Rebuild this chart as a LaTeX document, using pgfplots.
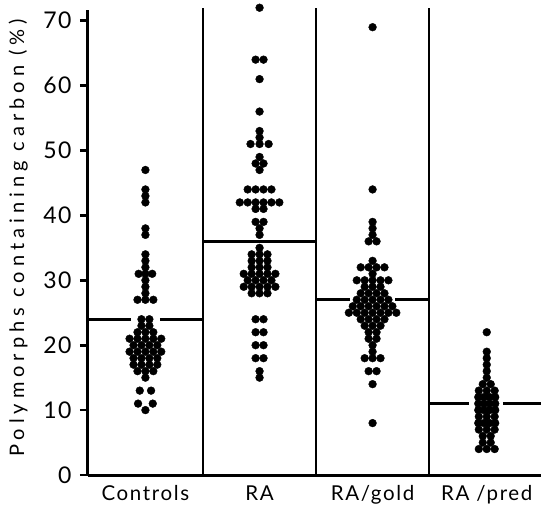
\documentclass[border=0pt]{standalone}
\usepackage{fontspec}
\setmainfont{Lato}
\newfontfamily\lsfont[LetterSpace=8]{Lato}
\newfontfamily\tkfont[LetterSpace=6]{Lato}
\newfontfamily\ylfont[LetterSpace=25]{Lato}
\usepackage{pgfplots}
\pgfplotsset{compat=1.18}
\begin{document}
\begin{tikzpicture}
\begin{axis}[
  name=ax,
  scale only axis,
  width=453pt, height=465pt,
  xmin=-0.018, xmax=3.99,
  ymin=0, ymax=71.65,
  axis x line*=bottom, axis y line*=left,
  axis line style={line width=3pt, -},
  ytick={0,10,20,30,40,50,60,70},
  ytick style={line width=2.6pt, black},
  major tick length=8pt,
  tick align=outside,
  xtick={0.49,1.5,2.5,3.51},
  xticklabels={Controls, RA, RA/gold, RA /pred},
  xtick style={draw=none},
  /pgf/number format/assume math mode=true,
  yticklabel style={font=\fontsize{23}{23}\selectfont\tkfont, xshift=-5pt},
  xticklabel style={font=\fontsize{20.5}{20.5}\selectfont\lsfont, anchor=base, yshift=-17pt},
  ylabel={Polymorphs containing carbon (\%)},
  ylabel style={font=\fontsize{20}{20}\selectfont\ylfont, at={(axis description cs:-0.125,0.51)}, anchor=south},
  clip=false,
]
% separators
\addplot[line width=2.6pt, black] coordinates {(1,0) (1,71.9)};
\addplot[line width=2.6pt, black] coordinates {(2,0) (2,71.9)};
\addplot[line width=2.6pt, black] coordinates {(3,0) (3,71.9)};
% median lines
\addplot[line width=2.6pt, black] coordinates {(-0.018,24) (0.363,24)};
\addplot[line width=2.6pt, black] coordinates {(0.619,24) (1,24)};
\addplot[line width=2.6pt, black] coordinates {(1,36) (2,36)};
\addplot[line width=2.6pt, black] coordinates {(2,27) (2.30,27)};
\addplot[line width=2.6pt, black] coordinates {(2.70,27) (3,27)};
\addplot[line width=2.6pt, black] coordinates {(3,11) (3.357,11)};
\addplot[line width=2.6pt, black] coordinates {(3.652,11) (3.99,11)};
% Controls
\addplot[only marks, mark=*, mark size=3.9pt, black] coordinates {
(0.49,47)
(0.49,44)(0.49,43)(0.49,42)
(0.49,38)(0.49,37)
(0.49,34)(0.49,33)(0.49,32)
(0.43,31)(0.49,31)(0.55,31)
(0.49,30)(0.49,29)(0.49,28)
(0.42,27)(0.49,27)(0.56,27)
(0.455,24)(0.525,24)
(0.455,23)(0.525,23)
(0.42,22)(0.49,22)(0.56,22)
(0.35,21)(0.42,21)(0.49,21)(0.56,21)(0.63,21)
(0.385,20)(0.455,20)(0.525,20)(0.595,20)
(0.35,19)(0.42,19)(0.49,19)(0.56,19)(0.63,19)
(0.385,18)(0.455,18)(0.525,18)(0.595,18)
(0.385,17)(0.455,17)(0.525,17)(0.595,17)
(0.42,16)(0.49,16)(0.56,16)
(0.49,15)
(0.44,13)(0.54,13)
(0.425,11)(0.555,11)
(0.49,10)
};
% RA
\addplot[only marks, mark=*, mark size=3.9pt, black] coordinates {
(1.5,72)
(1.465,64)(1.535,64)
(1.5,61)
(1.5,56)
(1.5,53)(1.5,52)
(1.42,51)(1.5,51)(1.58,51)
(1.5,49)
(1.465,48)(1.535,48)
(1.5,47)
(1.395,44)(1.465,44)(1.535,44)(1.605,44)
(1.325,42)(1.395,42)(1.465,42)(1.535,42)(1.605,42)(1.675,42)
(1.465,41)(1.535,41)
(1.465,39)(1.535,39)
(1.5,38)(1.5,37)
(1.5,35)
(1.43,34)(1.5,34)(1.57,34)
(1.43,33)(1.5,33)(1.57,33)
(1.43,32)(1.5,32)(1.57,32)
(1.36,31)(1.43,31)(1.5,31)(1.57,31)(1.64,31)
(1.395,30)(1.465,30)(1.535,30)(1.605,30)
(1.36,29)(1.43,29)(1.5,29)(1.57,29)(1.64,29)
(1.43,28)(1.5,28)(1.57,28)
(1.465,24)(1.535,24)
(1.465,22)(1.535,22)
(1.465,20)(1.535,20)
(1.465,18)(1.535,18)
(1.5,16)(1.5,15)
};
% RA/gold
\addplot[only marks, mark=*, mark size=3.9pt, black] coordinates {
(2.5,69)
(2.5,44)
(2.5,39)(2.5,38)(2.5,37)
(2.465,36)(2.535,36)
(2.5,33)
(2.395,32)(2.465,32)(2.535,32)(2.605,32)
(2.5,31)
(2.36,30)(2.43,30)(2.5,30)(2.57,30)(2.64,30)
(2.43,29)(2.5,29)(2.57,29)
(2.395,28)(2.465,28)(2.535,28)(2.605,28)
(2.36,27)(2.43,27)(2.5,27)(2.57,27)(2.64,27)
(2.325,26)(2.395,26)(2.465,26)(2.535,26)(2.605,26)(2.675,26)
(2.29,25)(2.36,25)(2.43,25)(2.5,25)(2.57,25)(2.64,25)(2.71,25)
(2.395,24)(2.465,24)(2.535,24)(2.605,24)
(2.43,23)(2.5,23)(2.57,23)
(2.465,22)(2.535,22)
(2.465,21)(2.535,21)
(2.5,20)(2.5,19)
(2.43,18)(2.5,18)(2.57,18)
(2.465,16)(2.535,16)
(2.5,14)
(2.5,8)
};
% RA/pred
\addplot[only marks, mark=*, mark size=3.9pt, black] coordinates {
(3.51,22)
(3.51,19)(3.51,18)(3.51,17)(3.51,16)(3.51,15)
(3.475,14)(3.545,14)
(3.44,13)(3.51,13)(3.58,13)
(3.435,12)(3.485,12)(3.535,12)(3.585,12)
(3.435,11)(3.485,11)(3.535,11)(3.585,11)
(3.435,10)(3.485,10)(3.535,10)(3.585,10)
(3.44,9)(3.51,9)(3.58,9)
(3.435,8)(3.485,8)(3.535,8)(3.585,8)
(3.44,7)(3.51,7)(3.58,7)
(3.475,6)(3.545,6)
(3.475,5)(3.545,5)
(3.44,4)(3.51,4)(3.58,4)
};
\end{axis}
\pgfresetboundingbox
\path ([xshift=-88pt,yshift=-29pt]ax.south west) rectangle ([yshift=10pt]ax.north east);
\end{tikzpicture}
\end{document}
